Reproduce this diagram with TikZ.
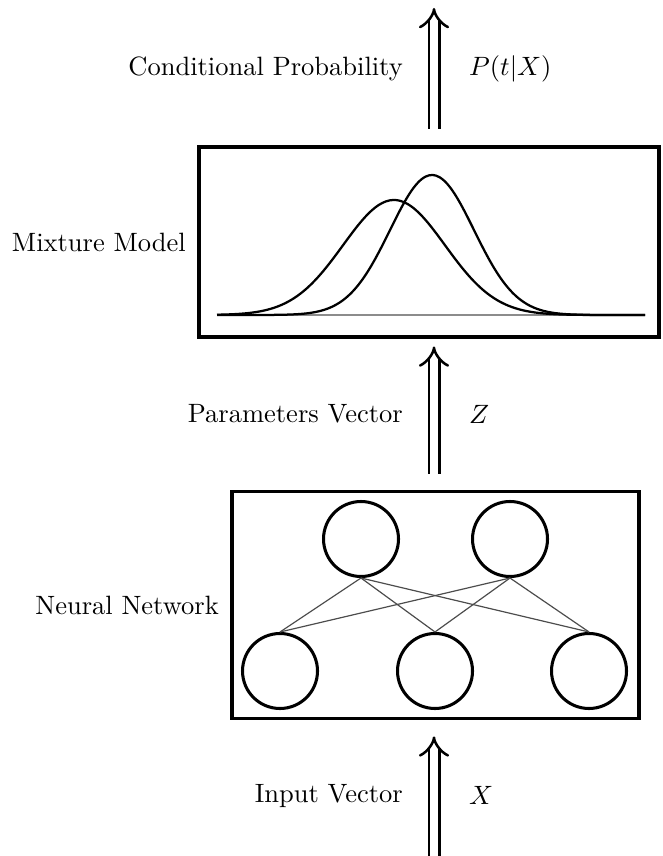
\documentclass[tikz,border=0pt]{standalone}
\usepackage{amsmath,amssymb}
\usepackage{tikz}
\usetikzlibrary{arrows.meta,positioning}

\begin{document}
\begin{tikzpicture}[
  x=0.3774pt, y=-0.3774pt,
  box/.style={draw, line width=1.15pt, inner sep=0pt},
  unit/.style={draw, circle, line width=1.15pt, minimum size=28.3pt, inner sep=0pt},
  lbl/.style={inner sep=0pt},
  link/.style={black!70, line width=0.45pt},
  flow/.style={double, double distance=3pt, line width=0.95pt, -{Implies}},
  density/.style={line width=0.85pt, smooth, samples=120}
]
\useasboundingbox (0,0) rectangle (662,856);

\node[box, minimum width=173.6pt, minimum height=71.7pt] (mixbox) at (429,242) {};
\node[box, minimum width=153.6pt, minimum height=86pt] (netbox) at (435.5,605) {};

\node[lbl, left=4.2pt of mixbox] (mixlbl) {Mixture Model};
\node[lbl, left=4.2pt of netbox] (netlbl) {Neural Network};

% two mixture components
\draw[black!45, line width=0.4pt] (217,315) -- (645,315);
\draw[density, domain=217:645] plot (\x, {315-115*exp(-0.5*((\x-394)/51)*((\x-394)/51))});
\draw[density, domain=217:645] plot (\x, {315-140*exp(-0.5*((\x-432)/42)*((\x-432)/42))});

% network units
\node[unit] (h1) at (361,539) {};
\node[unit] (h2) at (510,539) {};
\node[unit] (i1) at (280,671) {};
\node[unit] (i2) at (435,671) {};
\node[unit] (i3) at (589,671) {};

\foreach \h in {h1,h2}
  \foreach \i in {i1,i2,i3}
    \draw[link] (\h.south) -- (\i.north);

% flow arrows
\coordinate (outtip) at (434,8);
\coordinate (intail) at (434,856);

\draw[flow, shorten <=6.4pt] (outtip |- mixbox.north) -- (outtip)
  node[lbl, pos=0.56, left=11.3pt] (outlbl) {Conditional Probability}
  node[lbl, pos=0.56, right=12.8pt] (outsym) {$P(t|X)$};
\draw[flow, shorten <=6pt, shorten >=3pt] (outtip |- netbox.north) -- (outtip |- mixbox.south)
  node[lbl, midway, left=11.3pt] (zlbl) {Parameters Vector}
  node[lbl, midway, right=12.8pt] (zsym) {$Z$};
\draw[flow, shorten >=6pt] (intail) -- (intail |- netbox.south)
  node[lbl, pos=0.445, left=11.3pt] (inlbl) {Input Vector}
  node[lbl, pos=0.445, right=12.8pt] (insym) {$X$};
\end{tikzpicture}
\end{document}
